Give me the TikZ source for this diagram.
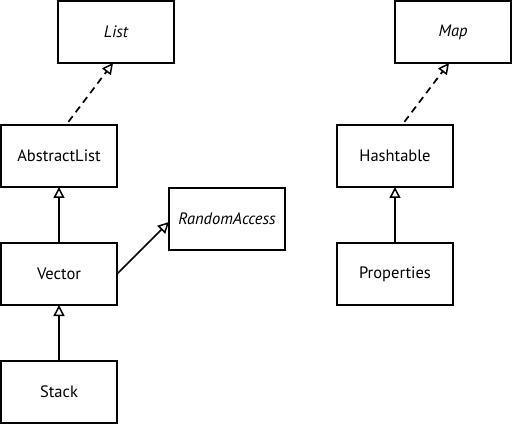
\documentclass[tikz,border=0pt]{standalone}
\usepackage{fontspec}
\setmainfont{PT Sans}
\usetikzlibrary{arrows.meta}
\begin{document}
\begin{tikzpicture}[x=1pt,y=-1pt,
  cls/.style={draw, line width=1.9pt, minimum width=116pt, minimum height=62pt,
    inner sep=0pt, outer sep=0pt, font=\fontsize{16.5}{19}\selectfont},
  iface/.style={cls, font=\fontsize{16.5}{19}\selectfont\itshape},
  inherit/.style={line width=1.7pt, -{Triangle[open, length=11pt, width=11pt, line width=1.5pt]}},
  realize/.style={inherit, dash pattern=on 7pt off 5pt},
  ]
\useasboundingbox (0,0) rectangle (526,443);
\node[iface] (List) at (116,32) {List};
\node[cls] (AbstractList) at (59,156) {AbstractList};
\node[cls] (Vector) at (59,274) {Vector};
\node[cls] (Stack) at (59,392) {Stack};
\node[iface] (RandomAccess) at (227,219) {RandomAccess};
\node[iface] (Map) at (453,32) {Map};
\node[cls] (Hashtable) at (395,156) {Hashtable};
\node[cls] (Properties) at (395,274) {Properties};

\draw[realize, shorten <=4pt] ([xshift=7pt]AbstractList.north) -- ([xshift=-3pt]List.south);
\draw[inherit] (Vector) -- (AbstractList);
\draw[inherit] (Stack) -- (Vector);
\draw[inherit] (Vector.east) -- ([yshift=-3pt]RandomAccess.west);
\draw[realize, shorten <=4pt] ([xshift=7pt]Hashtable.north) -- ([xshift=-4pt]Map.south);
\draw[inherit] (Properties) -- (Hashtable);
\end{tikzpicture}
\end{document}
